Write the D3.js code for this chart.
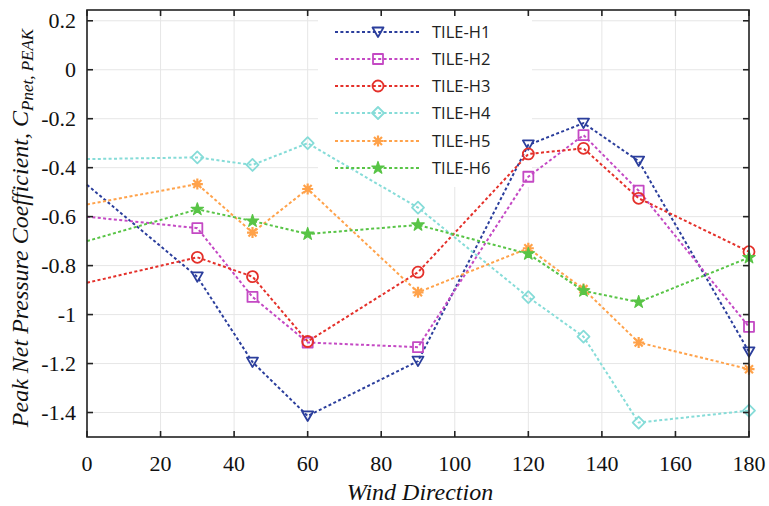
<!DOCTYPE html>
<html>
<head>
<meta charset="utf-8">
<script src="https://cdn.jsdelivr.net/npm/d3@7"></script>
</head>
<body style="margin:0">
<svg id="chart" width="769" height="506"></svg>
<script>
// Wind directions (degrees) at which the tiles were measured
const windDirections = [0, 30, 45, 60, 90, 120, 135, 150, 180];

// Peak net pressure coefficient for each tile
const tileH1 = [-0.47, -0.846, -1.194, -1.414, -1.19, -0.307, -0.218, -0.373, -1.152];
const tileH2 = [-0.60, -0.647, -0.928, -1.114, -1.133, -0.437, -0.267, -0.494, -1.05];
const tileH3 = [-0.87, -0.766, -0.845, -1.11, -0.827, -0.344, -0.321, -0.525, -0.743];
const tileH4 = [-0.365, -0.358, -0.389, -0.30, -0.563, -0.929, -1.09, -1.441, -1.392];
const tileH5 = [-0.55, -0.467, -0.665, -0.487, -0.909, -0.729, -0.896, -1.114, -1.223];
const tileH6 = [-0.70, -0.570, -0.618, -0.671, -0.634, -0.752, -0.903, -0.949, -0.767];

const seriesNames = ["TILE-H1", "TILE-H2", "TILE-H3", "TILE-H4", "TILE-H5", "TILE-H6"];
const seriesColors = ["#2b3e9c", "#c449c4", "#e4302a", "#86dcd8", "#ffa24a", "#58c446"];
const seriesMarkers = ["triangle", "square", "circle", "diamond", "asterisk", "star"];

const xTicks = [0, 20, 40, 60, 80, 100, 120, 140, 160, 180];
const yTicks = [0.2, 0, -0.2, -0.4, -0.6, -0.8, -1, -1.2, -1.4];

const seriesValues = [tileH1, tileH2, tileH3, tileH4, tileH5, tileH6];

const SERIF = "Tinos, 'Liberation Serif', FreeSerif, monospace";

const svg = d3.select("#chart");
const plot = { left: 87, right: 749, top: 10, bottom: 437 };

const x = d3.scaleLinear().domain([0, 180]).range([plot.left, plot.right]);
const y = d3.scaleLinear().domain([-1.5, 0.244]).range([plot.bottom, plot.top]);

// Grid
const grid = svg.append("g").attr("stroke", "#e6e6e6").attr("stroke-width", 1);
xTicks.forEach(t => grid.append("line")
  .attr("x1", x(t)).attr("x2", x(t)).attr("y1", plot.top).attr("y2", plot.bottom));
yTicks.forEach(t => grid.append("line")
  .attr("x1", plot.left).attr("x2", plot.right).attr("y1", y(t)).attr("y2", y(t)));

// Legend background sits above the grid but beneath the data
svg.append("rect")
  .attr("x", 318).attr("y", 12).attr("width", 214).attr("height", 175)
  .attr("fill", "#fff");

// Marker glyph paths centred at the origin
function markerPath(kind) {
  switch (kind) {
    case "triangle": return "M-5.5,-4.5L5.5,-4.5L0,5Z";
    case "square": return "M-5,-5H5V5H-5Z";
    case "circle": return d3.symbol(d3.symbolCircle, 95)();
    case "diamond": return "M0,-6L6,0L0,6L-6,0Z";
    case "asterisk": return "M-5.5,0H5.5M0,-5.5V5.5M-4,-4L4,4M-4,4L4,-4";
    case "star": return d3.symbol(d3.symbolStar, 48)();
  }
}

function drawMarker(g, kind, color, cx, cy) {
  g.append("path")
    .attr("d", markerPath(kind))
    .attr("transform", `translate(${cx},${cy})`)
    .attr("stroke", color)
    .attr("stroke-width", kind === "asterisk" ? 2.2 : (kind === "star" ? 1.2 : 1.8))
    .attr("stroke-linejoin", "round")
    .attr("fill", kind === "star" ? color : "none");
}

const line = d3.line().x((d, i) => x(windDirections[i])).y(d => y(d));

// Series lines and markers
seriesValues.forEach((vals, s) => {
  const g = svg.append("g");
  g.append("path")
    .datum(vals)
    .attr("d", line)
    .attr("fill", "none")
    .attr("stroke", seriesColors[s])
    .attr("stroke-width", 2)
    .attr("stroke-dasharray", "3,2.4");
  vals.forEach((v, i) => {
    if (i === 0) return;
    drawMarker(g, seriesMarkers[s], seriesColors[s], x(windDirections[i]), y(v));
  });
});

// Legend entries
const legend = svg.append("g");
const rowY = [32, 59, 86, 113, 141, 168];
seriesNames.forEach((name, s) => {
  const yy = rowY[s];
  legend.append("line")
    .attr("x1", 335).attr("x2", 420).attr("y1", yy).attr("y2", yy)
    .attr("stroke", seriesColors[s]).attr("stroke-width", 2)
    .attr("stroke-dasharray", "3,2.4");
  drawMarker(legend, seriesMarkers[s], seriesColors[s], 378, yy);
  legend.append("text")
    .style("font-family", "'Open Sans', sans-serif")
    .attr("x", 432).attr("y", yy + 6)
    .attr("font-size", 16.5)
    .attr("fill", "#222")
    .text(name);
});

// Frame and inward ticks
const frame = svg.append("g").attr("stroke", "#222").attr("stroke-width", 1.6);
frame.append("rect")
  .attr("x", plot.left).attr("y", plot.top)
  .attr("width", plot.right - plot.left).attr("height", plot.bottom - plot.top)
  .attr("fill", "none");
xTicks.forEach(t => {
  frame.append("line").attr("x1", x(t)).attr("x2", x(t)).attr("y1", plot.bottom).attr("y2", plot.bottom - 6);
  frame.append("line").attr("x1", x(t)).attr("x2", x(t)).attr("y1", plot.top).attr("y2", plot.top + 6);
});
yTicks.forEach(t => {
  frame.append("line").attr("x1", plot.left).attr("x2", plot.left + 6).attr("y1", y(t)).attr("y2", y(t));
  frame.append("line").attr("x1", plot.right).attr("x2", plot.right - 6).attr("y1", y(t)).attr("y2", y(t));
});

// Tick labels
svg.append("g").selectAll("text").data(xTicks).join("text")
  .style("font-family", SERIF)
  .attr("x", d => x(d)).attr("y", 471)
  .attr("text-anchor", "middle")
  .attr("font-size", 22).attr("fill", "#111")
  .text(d => String(d));
svg.append("g").selectAll("text").data(yTicks).join("text")
  .style("font-family", SERIF)
  .attr("x", 76).attr("y", d => y(d) + 7)
  .attr("text-anchor", "end")
  .attr("font-size", 22).attr("fill", "#111")
  .text(d => String(d));

// Axis titles
svg.append("text")
  .style("font-family", SERIF)
  .attr("x", 420).attr("y", 500)
  .attr("text-anchor", "middle")
  .attr("font-style", "italic")
  .attr("font-size", 24).attr("fill", "#111")
  .text("Wind Direction");

const yTitle = svg.append("text")
  .style("font-family", SERIF)
  .attr("transform", "translate(28,228) rotate(-90)")
  .attr("text-anchor", "middle")
  .attr("font-style", "italic")
  .attr("font-size", 24).attr("fill", "#111");
yTitle.append("tspan").text("Peak Net Pressure Coefficient, C");
yTitle.append("tspan").attr("font-size", 17).attr("dy", 5).text("Pnet, PEAK");
</script>
</body>
</html>
